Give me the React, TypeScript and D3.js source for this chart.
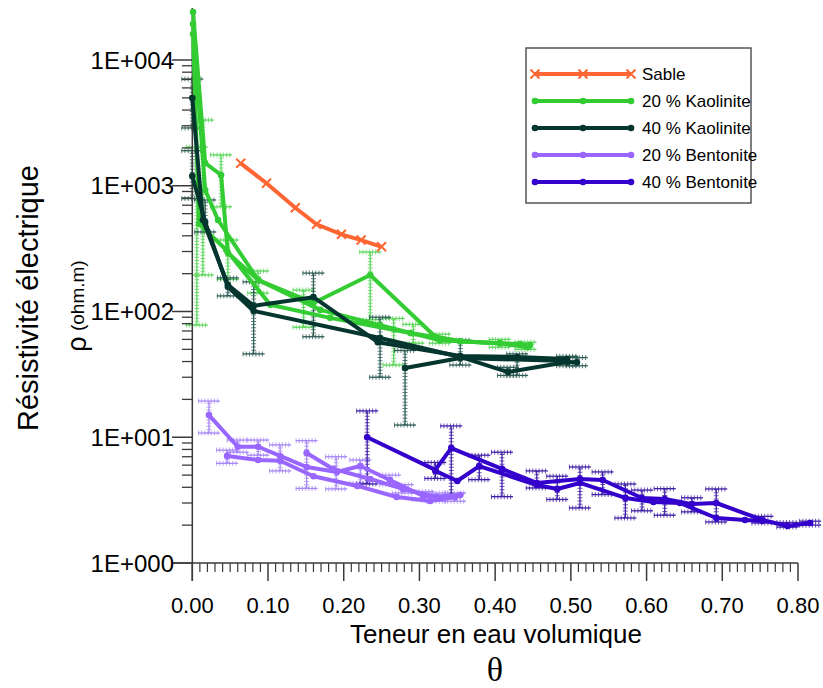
import React from 'react';
import * as d3 from 'd3';

const W = 823;
const H = 688;

// ---------- data ----------
const xTickValues = [0, 0.1, 0.2, 0.3, 0.4, 0.5, 0.6, 0.7, 0.8];
const xTickLabels = ['0.00', '0.10', '0.20', '0.30', '0.40', '0.50', '0.60', '0.70', '0.80'];
const yTickValues = [1, 10, 100, 1000, 10000];
const yTickLabels = ['1E+000', '1E+001', '1E+002', '1E+003', '1E+004'];

const legendNames = ['Sable', '20 % Kaolinite', '40 % Kaolinite', '20 % Bentonite', '40 % Bentonite'];

const sableRun = [[0.064, 1508], [0.098, 1046], [0.136, 669], [0.164, 494], [0.197, 411], [0.223, 370], [0.25, 327]];

const kaol20RunA = [[0.001, 24100], [0.017, 1517], [0.038, 1217], [0.047, 292], [0.087, 178], [0.16, 117], [0.235, 195], [0.321, 63], [0.354, 58], [0.446, 54]];
const kaol20RunB = [[0.001, 19300], [0.017, 925], [0.034, 534], [0.087, 178], [0.169, 103], [0.248, 78], [0.327, 59], [0.406, 56], [0.443, 52]];
const kaol20RunC = [[0.001, 16100], [0.009, 497], [0.045, 308], [0.103, 113], [0.182, 89], [0.288, 67.5], [0.354, 58], [0.433, 55]];
const kaol20Err = [[0.006, 78, 2030], [0.014, 195, 3330], [0.038, 680, 1760], [0.047, 180, 370], [0.087, 140, 210], [0.147, 75, 148], [0.235, 86, 297], [0.266, 37.5, 88], [0.292, 56, 79], [0.327, 56, 66], [0.406, 52, 60], [0.44, 50, 57]];

const kaol40RunA = [[0, 4990], [0.014, 534], [0.047, 163], [0.081, 111], [0.16, 130], [0.245, 57], [0.354, 44.3], [0.429, 43.5], [0.495, 41.9]];
const kaol40RunB = [[0, 1196], [0.017, 515], [0.047, 157], [0.081, 101], [0.248, 61.5], [0.354, 43.5], [0.417, 33], [0.495, 39.7], [0.508, 39.5]];
const kaol40RunC = [[0.281, 35.5], [0.354, 42.7], [0.495, 40.4]];
const kaol40Err = [[0, 2880, 7060], [0, 790, 1900], [0.017, 429, 771], [0.047, 133, 185], [0.081, 46, 172], [0.16, 63, 202], [0.248, 30, 90], [0.281, 12.5, 49], [0.354, 37.5, 59], [0.417, 31, 36], [0.429, 31, 46], [0.495, 37, 44], [0.508, 37, 43]];

const bent20RunA = [[0.022, 15.0], [0.06, 8.4], [0.087, 8.4], [0.116, 7.1], [0.151, 5.8], [0.191, 5.3], [0.222, 5.9], [0.261, 4.57], [0.305, 3.41], [0.334, 3.35]];
const bent20RunB = [[0.046, 7.1], [0.087, 6.6], [0.116, 6.5], [0.16, 4.9], [0.218, 4.1], [0.27, 3.35], [0.314, 3.11], [0.347, 3.35]];
const bent20RunC = [[0.151, 7.5], [0.186, 5.6], [0.235, 4.66], [0.278, 3.88], [0.323, 3.35], [0.354, 3.47]];
const bent20Err = [[0.022, 10.8, 19.4], [0.046, 6.2, 7.9], [0.06, 7.6, 9.5], [0.087, 7.2, 9.5], [0.116, 5.4, 8.7], [0.151, 3.92, 9.4], [0.19, 3.88, 7.0], [0.222, 4.3, 6.6], [0.261, 4.2, 5.0], [0.278, 3.6, 4.2], [0.305, 3.2, 3.7], [0.323, 3.1, 3.6], [0.347, 3.1, 3.6]];

const bent40RunA = [[0.231, 10.0], [0.321, 5.5], [0.342, 8.2], [0.409, 5.6], [0.455, 4.33], [0.512, 4.66], [0.542, 4.57], [0.594, 3.29], [0.624, 3.23], [0.66, 2.94], [0.692, 3.0], [0.753, 2.2], [0.786, 1.97], [0.816, 2.08]];
const bent40RunB = [[0.321, 5.4], [0.35, 4.49], [0.379, 5.9], [0.455, 4.17], [0.482, 3.88], [0.512, 4.33], [0.572, 3.29], [0.609, 3.06], [0.644, 3.0], [0.692, 2.28], [0.73, 2.2], [0.753, 2.16]];
const bent40Err = [[0.231, 4.25, 16.2], [0.321, 4.7, 6.3], [0.342, 3.37, 12.3], [0.379, 4.6, 7.2], [0.409, 3.37, 7.6], [0.455, 3.95, 5.4], [0.482, 3.2, 4.9], [0.512, 2.74, 5.8], [0.542, 3.5, 5.3], [0.572, 2.28, 4.25], [0.594, 2.6, 3.8], [0.624, 2.4, 3.9], [0.66, 2.55, 3.3], [0.692, 2.12, 3.88], [0.753, 2.08, 2.35], [0.786, 1.93, 2.1], [0.816, 2.0, 2.15]];

// ---------- styles ----------
const sableColor = '#FF6633';
const kaol20Color = '#33CC33';
const kaol40Color = '#04362F';
const bent20Color = '#9966FF';
const bent40Color = '#3300CC';
const kaol20ErrColor = '#5BD65B';
const kaol40ErrColor = '#2E5C55';
const bent20ErrColor = '#A888F8';
const bent40ErrColor = '#3F1FA6';
const axisColor = '#3a3a3a';
const font = 'Liberation Sans, Arial, sans-serif';

const x = d3.scaleLinear().domain([0, 0.8]).range([192.3, 798]);
const y = d3.scaleLog().domain([1, 10000]).range([563, 60]);

const lineGen = d3.line<number[]>().x((d) => x(d[0])).y((d) => y(d[1]));

function HatchLine({ x1, y1, x2, y2, color }: { x1: number; y1: number; x2: number; y2: number; color: string }) {
  return (
    <g>
      <line x1={x1} y1={y1} x2={x2} y2={y2} stroke={color} strokeWidth={1.3} />
      <line x1={x1} y1={y1} x2={x2} y2={y2} stroke={color} strokeWidth={5} strokeDasharray="1 2.2" opacity={0.75} />
    </g>
  );
}

function ErrorBars({ data, color }: { data: number[][]; color: string }) {
  const cap = 11;
  return (
    <g>
      {data.map((d, i) => {
        const cx = x(d[0]);
        const yl = y(d[1]);
        const yh = y(d[2]);
        return (
          <g key={i}>
            <HatchLine x1={cx} y1={yl} x2={cx} y2={yh} color={color} />
            <HatchLine x1={cx - cap} y1={yl} x2={cx + cap} y2={yl} color={color} />
            <HatchLine x1={cx - cap} y1={yh} x2={cx + cap} y2={yh} color={color} />
          </g>
        );
      })}
    </g>
  );
}

function Cross({ cx, cy, color }: { cx: number; cy: number; color: string }) {
  const s = 4.5;
  return (
    <path d={`M${cx - s},${cy - s}L${cx + s},${cy + s}M${cx - s},${cy + s}L${cx + s},${cy - s}`} stroke={color} strokeWidth={2} />
  );
}

function Run({ data, color, marker }: { data: number[][]; color: string; marker: 'dot' | 'cross' }) {
  return (
    <g>
      <path d={lineGen(data) || ''} fill="none" stroke={color} strokeWidth={4} strokeLinejoin="round" />
      {data.map((d, i) =>
        marker === 'dot' ? (
          <circle key={i} cx={x(d[0])} cy={y(d[1])} r={3.3} fill={color} />
        ) : (
          <Cross key={i} cx={x(d[0])} cy={y(d[1])} color={color} />
        )
      )}
    </g>
  );
}

export default function App() {
  const yMinor: number[] = [];
  for (let d = 0; d < 4; d++) for (let k = 2; k <= 9; k++) yMinor.push(k * Math.pow(10, d));
  const xMinor: number[] = [];
  for (let i = 1; i < 80; i++) if (i % 10 !== 0) xMinor.push(i / 100);

  const legendColors = [sableColor, kaol20Color, kaol40Color, bent20Color, bent40Color];

  return (
    <svg width={W} height={H} style={{ position: 'absolute', left: 0, top: 0, background: '#fff' }} fontFamily={font}>
      <rect x={0} y={0} width={W} height={H} fill="#fff" />

      {/* error bars */}
      <ErrorBars data={kaol20Err} color={kaol20ErrColor} />
      <ErrorBars data={kaol40Err} color={kaol40ErrColor} />
      <ErrorBars data={bent20Err} color={bent20ErrColor} />
      <ErrorBars data={bent40Err} color={bent40ErrColor} />

      {/* axes */}
      <line x1={x(0)} y1={y(1) + 18} x2={x(0)} y2={8} stroke={axisColor} strokeWidth={1.5} />
      <line x1={172} y1={y(1)} x2={x(0.8)} y2={y(1)} stroke={axisColor} strokeWidth={1.5} />
      {yTickValues.map((v, i) => (
        <g key={'yt' + i}>
          <line x1={172} x2={x(0)} y1={y(v)} y2={y(v)} stroke={axisColor} strokeWidth={1.5} />
          <text x={174} y={y(v)} textAnchor="end" dominantBaseline="central" fontSize={24} fill="#000">
            {yTickLabels[i]}
          </text>
        </g>
      ))}
      {yMinor.map((v, i) => (
        <line key={'ym' + i} x1={182} x2={x(0)} y1={y(v)} y2={y(v)} stroke={axisColor} strokeWidth={1.3} />
      ))}
      {xTickValues.map((v, i) => (
        <g key={'xt' + i}>
          <line x1={x(v)} x2={x(v)} y1={y(1)} y2={y(1) + 18} stroke={axisColor} strokeWidth={1.5} />
          <text x={x(v)} y={y(1) + 42} textAnchor="middle" dominantBaseline="central" fontSize={22} fill="#000">
            {xTickLabels[i]}
          </text>
        </g>
      ))}
      {xMinor.map((v, i) => (
        <line key={'xm' + i} x1={x(v)} x2={x(v)} y1={y(1)} y2={y(1) + 9} stroke={axisColor} strokeWidth={1.2} />
      ))}

      {/* series */}
      <Run data={sableRun} color={sableColor} marker="cross" />
      <Run data={kaol20RunA} color={kaol20Color} marker="dot" />
      <Run data={kaol20RunB} color={kaol20Color} marker="dot" />
      <Run data={kaol20RunC} color={kaol20Color} marker="dot" />
      <Run data={kaol40RunA} color={kaol40Color} marker="dot" />
      <Run data={kaol40RunB} color={kaol40Color} marker="dot" />
      <Run data={kaol40RunC} color={kaol40Color} marker="dot" />
      <Run data={bent20RunA} color={bent20Color} marker="dot" />
      <Run data={bent20RunB} color={bent20Color} marker="dot" />
      <Run data={bent20RunC} color={bent20Color} marker="dot" />
      <Run data={bent40RunA} color={bent40Color} marker="dot" />
      <Run data={bent40RunB} color={bent40Color} marker="dot" />

      {/* axis titles */}
      <text x={496} y={634} textAnchor="middle" dominantBaseline="central" fontSize={26} fill="#000">
        Teneur en eau volumique
      </text>
      <text x={495} y={669} textAnchor="middle" dominantBaseline="central" fontSize={34} fontFamily="Liberation Serif, Times New Roman, serif" fill="#000">
        θ
      </text>
      <text transform="translate(28,298) rotate(-90)" textAnchor="middle" dominantBaseline="central" fontSize={29} fill="#000">
        Résistivité électrique
      </text>
      <text transform="translate(77,306) rotate(-90)" textAnchor="middle" dominantBaseline="central" fill="#000">
        <tspan fontSize={27}>ρ</tspan>
        <tspan fontSize={19}> (ohm.m)</tspan>
      </text>

      {/* legend */}
      <rect x={526} y={48} width={225} height={155} fill="#fff" stroke="#555" strokeWidth={1.5} />
      {legendNames.map((name, i) => {
        const ly = 74 + i * 27;
        const c = legendColors[i];
        return (
          <g key={'lg' + i}>
            <line x1={535} x2={631} y1={ly} y2={ly} stroke={c} strokeWidth={4} />
            {[535, 583, 631].map((mx, j) =>
              i === 0 ? <Cross key={j} cx={mx} cy={ly} color={c} /> : <circle key={j} cx={mx} cy={ly} r={3.3} fill={c} />
            )}
            <text x={642} y={ly} dominantBaseline="central" fontSize={17} fill="#000">
              {name}
            </text>
          </g>
        );
      })}
    </svg>
  );
}
